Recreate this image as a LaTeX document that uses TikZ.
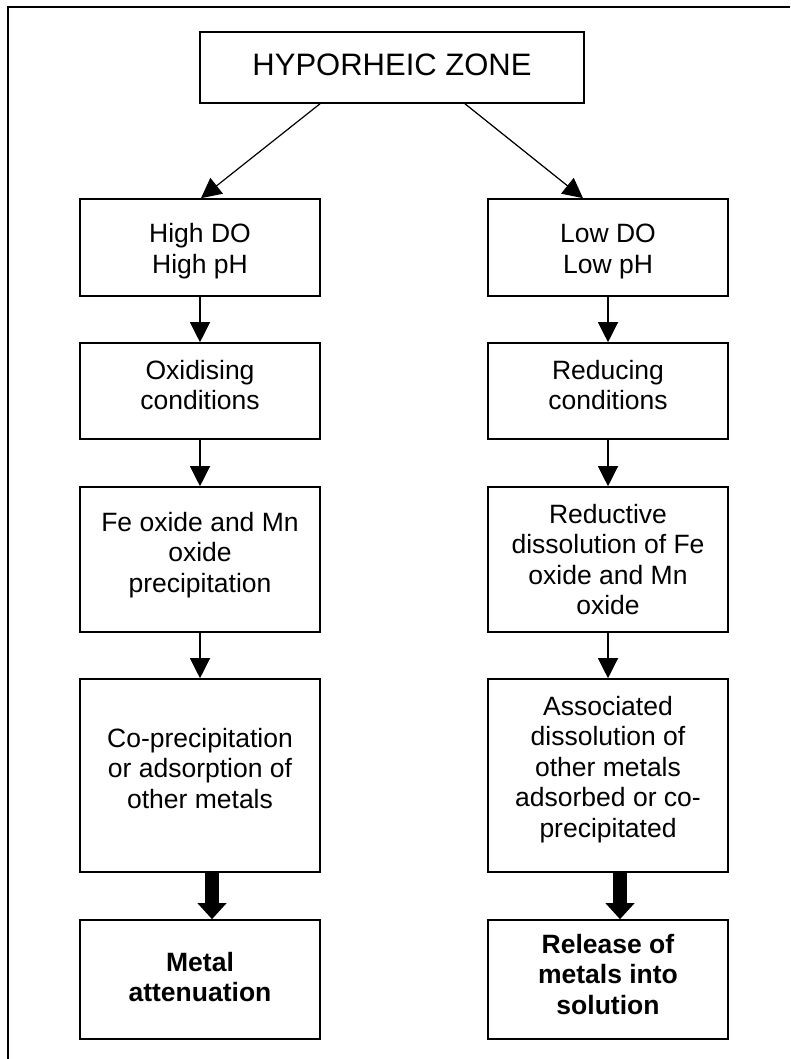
\documentclass[tikz,border=0pt]{standalone}
\usepackage{fontspec}
\setmainfont{Liberation Sans}
\usetikzlibrary{arrows.meta,calc}
\newcommand\mlines[1]{\begin{tabular}[t]{@{}c@{}}#1\end{tabular}}
\begin{document}
\begin{tikzpicture}[x=1pt,y=-1pt,
  box/.style={draw, line width=1.6pt, rectangle, inner sep=0pt, minimum width=240pt},
  txt/.style={inner sep=0pt, anchor=base, font=\fontsize{26.5}{30.5}\selectfont},
  arr/.style={line width=1.2pt, -{Triangle[length=20pt,width=20pt]}},
  bigarr/.style={line width=14pt, -{Triangle[length=16pt,width=28pt]}},
  frame/.style={line width=2pt}]
\useasboundingbox (0,0) rectangle (790,1059);
\draw[frame] (8,1059) -- (8,7) -- (790,7);

% boxes
\node[box, minimum width=384pt, minimum height=71pt] (top) at (392,67.5) {};
\node[box, minimum height=97pt]  (l1) at (200,247.5) {};
\node[box, minimum height=96pt]  (l2) at (200,391) {};
\node[box, minimum height=145pt] (l3) at (200,559.5) {};
\node[box, minimum height=193pt] (l4) at (200,775.5) {};
\node[box, minimum height=119pt] (l5) at (200,979.5) {};
\node[box, minimum height=97pt]  (r1) at (608,247.5) {};
\node[box, minimum height=96pt]  (r2) at (608,391) {};
\node[box, minimum height=145pt] (r3) at (608,559.5) {};
\node[box, minimum height=193pt] (r4) at (608,775.5) {};
\node[box, minimum height=119pt] (r5) at (608,979.5) {};

% texts
\node[txt, font=\fontsize{31}{36}\selectfont] (toptxt) at (392,76) {HYPORHEIC ZONE};
\node[txt] (l1t) at (200,243) {\mlines{High DO\\High pH}};
\node[txt] (l2t) at (200,379) {\mlines{Oxidising\\conditions}};
\node[txt] (l3t) at (200,531) {\mlines{Fe oxide and Mn\\oxide\\precipitation}};
\node[txt] (l4t) at (200,747) {\mlines{Co-precipitation\\or adsorption of\\other metals}};
\node[txt] (l5t) at (200,971) {\bfseries\mlines{Metal\\attenuation}};
\node[txt] (r1t) at (608,243) {\mlines{Low DO\\Low pH}};
\node[txt] (r2t) at (608,379) {\mlines{Reducing\\conditions}};
\node[txt] (r3t) at (608,523) {\mlines{Reductive\\dissolution of Fe\\oxide and Mn\\oxide}};
\node[txt] (r4t) at (608,715) {\mlines{Associated\\dissolution of\\other metals\\adsorbed or co-\\precipitated}};
\node[txt] (r5t) at (608,953) {\bfseries\mlines{Release of\\metals into\\solution}};

% connectors
\draw[arr] ([xshift=-72pt]top.south) -- ([xshift=1pt]l1.north);
\draw[arr] ([xshift=73pt]top.south) -- ([xshift=-25pt]r1.north);
\draw[arr] (l1) -- (l2);
\draw[arr] (l2) -- (l3);
\draw[arr] (l3) -- (l4);
\draw[arr] (r1) -- (r2);
\draw[arr] (r2) -- (r3);
\draw[arr] (r3) -- (r4);
\draw[bigarr] ([xshift=12pt]l4.south) -- ([xshift=12pt]l5.north);
\draw[bigarr] ([xshift=12pt]r4.south) -- ([xshift=12pt]r5.north);
\end{tikzpicture}
\end{document}
